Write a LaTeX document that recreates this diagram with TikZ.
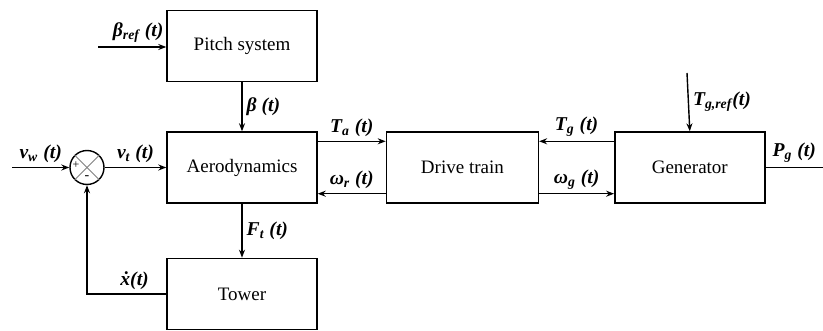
\documentclass[tikz,border=0pt]{standalone}
\usepackage{fontspec}
\setmainfont{Liberation Serif}
\usepackage{tikz}
\usetikzlibrary{positioning,arrows.meta,calc}

\begin{document}
\begin{tikzpicture}[
    x=0.5pt, y=-0.5pt,
    font=\fontsize{9.5}{11}\selectfont,
    >={Stealth[length=4pt,width=3pt]},
    block/.style={draw, line width=0.7pt, minimum width=75pt, minimum height=35.5pt, inner sep=0pt, align=center},
    sumnode/.style={draw, line width=0.7pt, circle, minimum size=17pt, inner sep=0pt},
    sig/.style={->, line width=0.7pt},
    lbl/.style={font=\fontsize{9.8}{11}\selectfont\bfseries\itshape, inner sep=2pt},
  ]
    \useasboundingbox (0,0) rectangle (823,331);

    \node[block] (aero) at (242,167.5) {Aerodynamics};
    \node[block, above=24.5pt of aero] (pitch) {Pitch system};
    \node[block, below=27pt of aero] (tower) {Tower};
    \node[block, right=34pt of aero, minimum width=76pt] (drive) {Drive train};
    \node[block, right=37.5pt of drive] (gen) {Generator};
    \node[sumnode] (sum) at (87,167.5) {};

    % summing junction
    \draw[gray, line width=0.5pt] (sum.north west) -- (sum.south east);
    \draw[gray, line width=0.5pt] (sum.north east) -- (sum.south west);
    \node[font=\fontsize{6}{7}\selectfont, inner sep=0pt] at ($(sum.center)+(-11,-2)$) {+};
    \node[font=\fontsize{7}{7}\selectfont, inner sep=0pt] at ($(sum.center)+(0,10)$) {-};

    \coordinate (vin) at (12,167.5);
    \coordinate (bref) at (98,47);
    \coordinate (tgref) at (687,73);
    \coordinate (pout) at (823,167.5);

    \draw[sig] (vin) -- node[lbl, above] {v\textsubscript{w} (t)} (sum.west);
    \draw[sig] (sum.east) -- node[lbl, above] {v\textsubscript{t} (t)} (aero.west);
    \draw[sig] (bref) -- node[lbl, above, xshift=3pt] {β\textsubscript{ref} (t)} (bref -| pitch.west);
    \draw[sig] (pitch.south) -- node[lbl, right] {β (t)} (aero.north);
    \draw[sig] (aero.south) -- node[lbl, right] {F\textsubscript{t} (t)} (tower.north);
    \draw[sig] (tower.west) -| node[lbl, above, pos=0.2] {\.{x}(t)} (sum.south);

    \draw[sig] ($(aero.north east)+(0,10)$) -- node[lbl, above] {T\textsubscript{a} (t)} ($(drive.north west)+(0,10)$);
    \draw[sig] ($(drive.south west)+(0,-10)$) -- node[lbl, above] {ω\textsubscript{r} (t)} ($(aero.south east)+(0,-10)$);
    \draw[sig] ($(gen.north west)+(0,10)$) -- node[lbl, above] {T\textsubscript{g} (t)} ($(drive.north east)+(0,10)$);
    \draw[sig] ($(drive.south east)+(0,-10)$) -- node[lbl, above] {ω\textsubscript{g} (t)} ($(gen.south west)+(0,-10)$);

    \draw[sig] (tgref) -- node[lbl, right] {T\textsubscript{g,ref}(t)} (gen.north);
    \draw[line width=0.7pt] (gen.east) -- node[lbl, above] {P\textsubscript{g} (t)} (pout);
  \end{tikzpicture}
\end{document}
